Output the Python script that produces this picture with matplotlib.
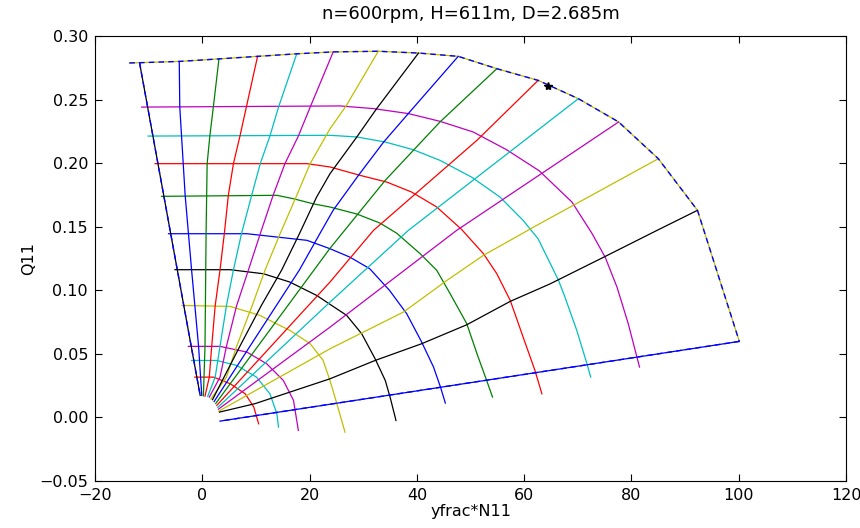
import matplotlib
matplotlib.use('Agg')
import matplotlib.pyplot as plt

# constant-speed curves (inner -> outer), points as (N11*yfrac, Q11)
speed_lines = [
	[(-1.4, 0.0317), (2.1, 0.0317), (5.2, 0.0265), (8.0, 0.0186), (9.6, 0.0081), (10.5, -0.005)],
	[(-2.0, 0.0448), (2.7, 0.0448), (6.4, 0.0409), (10.1, 0.0317), (12.6, 0.0186), (13.9, 0.0029), (14.2, -0.0076)],
	[(-2.6, 0.0559), (3.3, 0.0559), (8.3, 0.0514), (12.0, 0.0422), (15.1, 0.0291), (17.0, 0.0134), (17.9, -0.0102)],
	[(-3.8, 0.0881), (5.2, 0.0873), (10.7, 0.0803), (16.3, 0.0685), (20.1, 0.058), (22.5, 0.045),
	 (23.8, 0.029), (25.0, 0.012), (26.6, -0.0116)],
	[(-5.1, 0.1162), (5.2, 0.1162), (11.4, 0.113), (16.3, 0.1065), (21.3, 0.096), (24.5, 0.087),
	 (26.9, 0.0803), (29.7, 0.0659), (32.2, 0.0462), (34.1, 0.0291), (35.0, 0.016), (36.1, -0.0024)],
	[(-6.3, 0.1445), (8.3, 0.1445), (13.9, 0.1419), (19.5, 0.1393), (23.8, 0.1327), (27.5, 0.1261),
	 (31.2, 0.117), (34.9, 0.0999), (38.1, 0.0816), (40.9, 0.0592), (43.1, 0.0396), (44.4, 0.0238), (45.3, 0.0113)],
	[(-7.6, 0.1739), (13.9, 0.1747), (17.0, 0.172), (20.7, 0.168), (23.8, 0.1655), (28.8, 0.160),
	 (33.1, 0.1529), (36.2, 0.145), (40.6, 0.1288), (43.7, 0.1157), (46.2, 0.0973), (49.3, 0.0737),
	 (51.2, 0.0501), (53.0, 0.0291), (54.1, 0.016)],
	[(-8.8, 0.1996), (19.5, 0.1996), (23.8, 0.197), (29.4, 0.1904), (34.4, 0.1851), (39.0, 0.1773),
	 (43.7, 0.1655), (48.3, 0.148), (52.4, 0.1288), (54.9, 0.113), (57.4, 0.092), (59.8, 0.0632),
	 (62.0, 0.037), (63.3, 0.0186)],
	[(-10.1, 0.2213), (23.8, 0.2219), (28.8, 0.2206), (34.1, 0.2166), (39.3, 0.2106), (44.3, 0.2022),
	 (50.2, 0.189), (55.5, 0.1733), (59.8, 0.155), (62.6, 0.1405), (66.4, 0.1078), (67.6, 0.0946),
	 (69.8, 0.0685), (71.7, 0.0422), (72.4, 0.0317)],
	[(-11.3, 0.2441), (25.7, 0.245), (31.9, 0.2429), (38.4, 0.239), (44.3, 0.2329), (50.5, 0.2245),
	 (56.7, 0.2106), (62.8, 0.194), (68.9, 0.1694), (72.6, 0.145), (75.1, 0.126), (77.3, 0.1025),
	 (79.4, 0.0737), (81.5, 0.0396)],
]

# outer envelope (last speed curve)
envelope = [(-13.6, 0.2788), (-11.7, 0.279), (-4.3, 0.280), (3.1, 0.282), (10.3, 0.284), (17.6, 0.286),
			(24.4, 0.2875), (32.8, 0.288), (40.3, 0.2866), (47.7, 0.284), (54.9, 0.2743), (62.6, 0.2651),
			(70.1, 0.2507), (77.6, 0.2324), (85.0, 0.2035), (92.3, 0.1629), (100.1, 0.0598)]

# constant-opening lines (left -> right)
opening_lines = [
	[(-11.7, 0.279), (-0.4, 0.0173)],
	[(-4.3, 0.280), (-4.2, 0.244), (-3.2, 0.1747), (-2.0, 0.116), (-0.7, 0.056), (-0.1, 0.0173)],
	[(3.1, 0.282), (2.05, 0.244), (1.4, 0.2213), (0.9, 0.1996), (0.7, 0.1445), (0.5, 0.056), (0.2, 0.017)],
	[(10.3, 0.284), (8.2, 0.244), (7.0, 0.221), (5.8, 0.1996), (4.85, 0.1747), (4.1, 0.1445), (3.3, 0.116),
	 (2.4, 0.088), (1.75, 0.056), (1.3, 0.0317), (0.5, 0.0168)],
	[(17.6, 0.286), (14.2, 0.244), (12.6, 0.2213), (10.8, 0.1996), (9.2, 0.1747), (7.3, 0.1445), (5.8, 0.116),
	 (4.5, 0.088), (3.3, 0.056), (2.4, 0.0317), (1.0, 0.0165)],
	[(24.4, 0.2875), (20.1, 0.244), (17.9, 0.2213), (15.4, 0.1996), (13.2, 0.1747), (10.8, 0.1445),
	 (8.6, 0.116), (6.4, 0.088), (4.5, 0.056), (3.3, 0.0317), (1.3, 0.016)],
	[(32.8, 0.288), (26.8, 0.245), (23.8, 0.227), (20.1, 0.1996), (17.6, 0.1747), (14.5, 0.1445),
	 (11.7, 0.116), (9.3, 0.088), (6.4, 0.056), (4.5, 0.0317), (1.6, 0.0145)],
	[(40.3, 0.2866), (32.5, 0.2429), (28.8, 0.2206), (23.8, 0.1917), (21.3, 0.1733), (18.1, 0.1445),
	 (14.8, 0.116), (11.0, 0.088), (7.0, 0.056), (1.9, 0.014)],
	[(47.7, 0.284), (38.4, 0.239), (33.8, 0.2166), (29.1, 0.1904), (24.4, 0.163), (21.9, 0.1445),
	 (18.1, 0.116), (2.2, 0.0125)],
	[(54.9, 0.2743), (44.3, 0.2324), (34.1, 0.1865), (23.8, 0.133), (2.5, 0.011)],
	[(62.6, 0.2651), (51.2, 0.218), (31.9, 0.1471), (23.8, 0.1065), (2.7, 0.0095)],
	[(70.1, 0.2507), (38.4, 0.1471), (23.8, 0.0907), (2.9, 0.008)],
	[(77.6, 0.2324), (47.4, 0.1471), (23.8, 0.071), (3.0, 0.0065)],
	[(85.0, 0.2035), (62.9, 0.1524), (52.4, 0.1275), (45.6, 0.1078), (37.5, 0.0829), (23.8, 0.054), (3.1, 0.005)],
	[(92.3, 0.1629), (84.7, 0.147), (74.8, 0.126), (64.8, 0.105), (57.4, 0.0913), (49.3, 0.0729),
	 (40.9, 0.058), (32.2, 0.0448), (23.8, 0.0304), (9.8, 0.0108), (3.2, 0.0042)],
	[(100.1, 0.0598), (3.3, -0.0029)],
]

best_point = (64.5, 0.261)

cycle = ['b', 'g', 'r', 'c', 'm', 'y', 'k']

fig = plt.figure(figsize=(8.6, 5.28), dpi=100, facecolor='white')
ax = fig.add_axes([0.1105, 0.089, 0.8733, 0.8428])

k = 2  # first two colours of the cycle went unused
for line in speed_lines:
	xs, ys = zip(*line)
	ax.plot(xs, ys, color=cycle[k % 7], lw=0.9)
	k += 1
xs, ys = zip(*envelope)
ax.plot(xs, ys, color=cycle[k % 7], lw=0.9)
k += 1
for line in opening_lines:
	xs, ys = zip(*line)
	ax.plot(xs, ys, color=cycle[k % 7], lw=0.9)
	k += 1

# dashed outline of the operating range
for line in (envelope, opening_lines[0], opening_lines[-1]):
	xs, ys = zip(*line)
	ax.plot(xs, ys, 'b--', lw=1.0, dashes=(4, 3))

ax.plot([best_point[0]], [best_point[1]], 'k*', ms=6)

ax.set_xlim(-20, 120)
ax.set_ylim(-0.05, 0.30)
ax.tick_params(direction='in', top=True, right=True, labelsize=11.5, length=5, pad=5)
ax.set_xlabel('yfrac*N11', fontsize=11.5, labelpad=1)
ax.set_ylabel('Q11', fontsize=11.5, labelpad=2)
ax.set_title('n=600rpm, H=611m, D=2.685m', fontsize=13, pad=12)

fig.savefig('out.png', dpi=100, facecolor='white')
